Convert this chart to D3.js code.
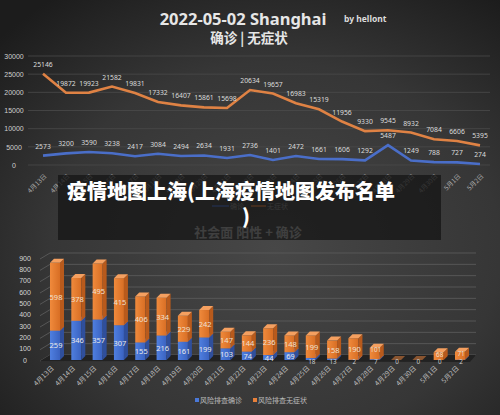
<!DOCTYPE html>
<html><head><meta charset="utf-8">
<script src="https://cdn.jsdelivr.net/npm/d3@7"></script>
<style>
html,body{margin:0;padding:0;background:#2a2a2a;}
svg{display:block;font-family:"Noto Sans","Noto Sans CJK SC",sans-serif;}
</style></head>
<body>
<script>
const dates = ["4月13日","4月14日","4月15日","4月16日","4月17日","4月18日","4月19日","4月20日","4月21日","4月22日","4月23日","4月24日","4月25日","4月26日","4月27日","4月28日","4月29日","4月30日","5月1日","5月2日"];
const confirmed = [2573,3200,3590,3238,2417,3084,2494,2634,1931,2736,1401,2472,1661,1606,1292,5487,1249,788,727,274];
const asymptomatic = [25146,19872,19923,21582,19831,17332,16407,15861,15698,20634,19657,16983,15319,11956,9330,9545,8932,7084,6606,5395];
const riskConfirmed = [259,346,357,307,155,216,161,199,103,74,44,69,18,13,2,7,0,0,0,2];
const riskAsym = [598,378,495,415,406,334,229,242,147,144,236,148,199,158,190,101,0,0,68,71];
const topTicks = [0,5000,10000,15000,20000,25000,30000];
const bottomTicks = [0,100,200,300,400,500,600,700,800,900];

const W=500,H=415;
const svg=d3.select("body").append("svg").attr("width",W).attr("height",H);
const defs=svg.append("defs");
const rg=defs.append("radialGradient").attr("id","bg").attr("cx","0.55").attr("cy","0.6").attr("r","0.75");
rg.append("stop").attr("offset","0").attr("stop-color","#474747");
rg.append("stop").attr("offset","0.6").attr("stop-color","#363636");
rg.append("stop").attr("offset","1").attr("stop-color","#1c1c1c");
svg.append("rect").attr("width",W).attr("height",H).attr("fill","url(#bg)");
const og=defs.append("linearGradient").attr("id","og").attr("x1",0).attr("x2",1);
og.append("stop").attr("offset",0).attr("stop-color","#f08a3c");
og.append("stop").attr("offset",1).attr("stop-color","#d86e24");
const bgd=defs.append("linearGradient").attr("id","bgd").attr("x1",0).attr("x2",1);
bgd.append("stop").attr("offset",0).attr("stop-color","#4f7fe0");
bgd.append("stop").attr("offset",1).attr("stop-color","#3a62c0");

// Titles
svg.append("text").attr("x",243).attr("y",25).attr("text-anchor","middle").attr("fill","#e6e6e6")
  .attr("font-size",16.5).attr("font-weight","bold").text("2022-05-02 Shanghai");
svg.append("text").attr("x",344).attr("y",22).attr("fill","#dddddd")
  .attr("font-size",8.5).attr("font-weight","bold").text("by hellont");
svg.append("text").attr("x",249).attr("y",43).attr("text-anchor","middle").attr("fill","#e6e6e6")
  .attr("font-size",13.5).attr("font-weight","bold").attr("font-family","Noto Sans CJK SC").attr("xml:space","preserve").text("确诊 | 无症状");

// Top line chart
const x1=d3.scalePoint().domain(dates).range([43,480]);
const y1=d3.scaleLinear().domain([0,30000]).range([165,56]);
const gT=svg.append("g");
gT.selectAll("line.g").data(topTicks).join("line").attr("x1",28).attr("x2",490)
  .attr("y1",d=>y1(d)).attr("y2",d=>y1(d)).attr("stroke","#4a4a4a").attr("stroke-width",0.8);
const ay1=d3.axisLeft(y1).tickValues(topTicks).tickFormat(d3.format("d")).tickSize(0).tickPadding(0);
const ayG=gT.append("g").attr("transform","translate(23,0)").call(ay1);
ayG.select(".domain").remove();
ayG.selectAll("text").attr("fill","#cfcfcf").attr("font-size",7).attr("text-anchor","middle").attr("x",-9);
const ax1=d3.axisBottom(x1).tickSize(0).tickPadding(0);
const axG=gT.append("g").attr("transform","translate(0,175)").call(ax1);
axG.select(".domain").remove();
axG.selectAll("text").attr("fill","#a8a8a8").attr("font-size",6.5).attr("font-family","Noto Sans CJK SC")
  .attr("text-anchor","end").attr("transform","translate(2,0) rotate(-45)").attr("dy","0.35em");
const line=d3.line().x((d,i)=>x1(dates[i])).y(d=>y1(d));
gT.append("path").datum(asymptomatic).attr("d",line).attr("fill","none").attr("stroke","#df8244").attr("stroke-width",2.6);
gT.append("path").datum(confirmed).attr("d",line).attr("fill","none").attr("stroke","#4a6ec8").attr("stroke-width",2.6);
gT.selectAll("text.la").data(asymptomatic).join("text").attr("class","la")
  .attr("x",(d,i)=>x1(dates[i])).attr("y",d=>y1(d)-7).attr("text-anchor","middle")
  .attr("fill","#dcdcdc").attr("font-size",6.8).text(d=>d);
gT.selectAll("text.lc").data(confirmed).join("text").attr("class","lc")
  .attr("x",(d,i)=>x1(dates[i])).attr("y",d=>y1(d)-7).attr("text-anchor","middle")
  .attr("fill","#dcdcdc").attr("font-size",6.8).text(d=>d);

// top legend (under overlay)
svg.append("line").attr("x1",212).attr("x2",229).attr("y1",206).attr("y2",206).attr("stroke","#4a6ec8").attr("stroke-width",2);
svg.append("text").attr("x",230).attr("y",209).attr("fill","#aaa").attr("font-size",7).attr("font-family","Noto Sans CJK SC").text("确诊");
svg.append("line").attr("x1",251).attr("x2",266).attr("y1",206).attr("y2",206).attr("stroke","#e2823f").attr("stroke-width",2);
svg.append("text").attr("x",267).attr("y",209).attr("fill","#aaa").attr("font-size",7).attr("font-family","Noto Sans CJK SC").text("无症状");
svg.append("text").attr("x",248).attr("y",237).attr("text-anchor","middle").attr("fill","#cfcfcf")
  .attr("font-size",13).attr("font-weight","bold").attr("font-family","Noto Sans CJK SC").text("社会面 阳性 + 确诊");

// Bottom stacked 3D bar chart
const x2=d3.scalePoint().domain(dates).range([55,460]);
const y2=d3.scaleLinear().domain([0,900]).range([360,258]);
const gB=svg.append("g");
const dx=5,dy=6;
gB.selectAll("path.gr").data(bottomTicks).join("path")
  .attr("d",d=>`M40,${y2(d)+1} L${40+dx*2},${y2(d)-dy+1} L476,${y2(d)-dy+1}`)
  .attr("fill","none").attr("stroke","#5a5a5a").attr("stroke-width",0.9);
gB.append("path").attr("d",`M40,${y2(0)+1} L${40+dx*2},${y2(0)-dy+1} L476,${y2(0)-dy+1} L470,${y2(0)+2} Z`).attr("fill","#222");
const ay2=d3.axisLeft(y2).tickValues(bottomTicks).tickSize(0).tickPadding(0);
const ay2G=gB.append("g").attr("transform","translate(25,0)").call(ay2);
ay2G.select(".domain").remove();
ay2G.selectAll("text").attr("fill","#d4d4d4").attr("font-size",7).attr("text-anchor","middle").attr("x",0);
const ax2=d3.axisBottom(x2).tickSize(0).tickPadding(0);
const ax2G=gB.append("g").attr("transform","translate(0,367)").call(ax2);
ax2G.select(".domain").remove();
ax2G.selectAll("text").attr("fill","#bdbdbd").attr("font-size",6.8).attr("font-family","Noto Sans CJK SC")
  .attr("text-anchor","end").attr("transform","translate(-3,0) rotate(-45)").attr("dy","0.35em");

const bw=10, bdx=4, bdy=4;
function box(g,xc,v0,v1,front,side,top){
  const xl=xc-bw/2, yt=y2(v1), yb=y2(v0);
  if(yb-yt<=0) return;
  g.append("rect").attr("x",xl).attr("y",yt).attr("width",bw).attr("height",yb-yt).attr("fill",front);
  g.append("path").attr("d",`M${xl+bw},${yt} L${xl+bw+bdx},${yt-bdy} L${xl+bw+bdx},${yb-bdy} L${xl+bw},${yb} Z`).attr("fill",side);
  g.append("path").attr("d",`M${xl},${yt} L${xl+bdx},${yt-bdy} L${xl+bw+bdx},${yt-bdy} L${xl+bw},${yt} Z`).attr("fill",top);
}
dates.forEach((d,i)=>{
  const xc=x2(d);
  const c=riskConfirmed[i], a=riskAsym[i];
  const g=gB.append("g");
  if(c===0&&a===0){
    g.append("path").attr("d",`M${xc-bw/2},${y2(0)} L${xc-bw/2+bdx},${y2(0)-bdy} L${xc+bw/2+bdx},${y2(0)-bdy} L${xc+bw/2},${y2(0)} Z`).attr("fill","#8a5530");
  }
  box(g,xc,0,c,"url(#bgd)","#2f4f9c","#5a86e0");
  box(g,xc,c,c+a,"url(#og)","#b85a1c","#f5a060");
});
gB.selectAll("text.bc").data(riskConfirmed).join("text").attr("class","bc")
  .attr("x",(d,i)=>x2(dates[i])+1).attr("y",d=>d>30? y2(d/2)+3 : y2(0)+3.5)
  .attr("text-anchor","middle").attr("fill",d=>d>30?"#eaeaea":"#cfcfcf").attr("font-size",d=>d>30?7.5:6.3).text(d=>d);
gB.selectAll("text.ba").data(riskAsym).join("text").attr("class","ba")
  .attr("x",(d,i)=>x2(dates[i])+1)
  .attr("y",(d,i)=>{const c=riskConfirmed[i]; return (c+d)<130 ? y2(c+d)+4.5 : y2(c+d/2)+3;})
  .attr("text-anchor","middle").attr("fill","#f0e0d0").attr("font-size",d=>d<130?6.3:7.5).text(d=>d===0?"":d);

// bottom legend
svg.append("rect").attr("x",195).attr("y",398).attr("width",4).attr("height",4).attr("fill","#4a78d8");
svg.append("text").attr("x",200).attr("y",402.5).attr("fill","#bdbdbd").attr("font-size",7).attr("font-family","Noto Sans CJK SC").text("风险排查确诊");
svg.append("rect").attr("x",253).attr("y",398).attr("width",4).attr("height",4).attr("fill","#e8803a");
svg.append("text").attr("x",258).attr("y",402.5).attr("fill","#bdbdbd").attr("font-size",7).attr("font-family","Noto Sans CJK SC").text("风险排查无症状");

// Overlay caption
svg.append("rect").attr("x",58).attr("y",175).attr("width",383).attr("height",65).attr("fill","rgba(22,22,22,0.78)");
svg.append("text").attr("x",67).attr("y",199).attr("fill","#ffffff").attr("font-size",20).attr("font-weight","900")
  .attr("font-family","Noto Sans CJK SC").text("疫情地图上海(上海疫情地图发布名单");
svg.append("text").attr("x",242).attr("y",224).attr("fill","#ffffff").attr("font-size",20).attr("font-weight","900")
  .attr("font-family","Noto Sans CJK SC").text(")");
</script>
</body></html>
